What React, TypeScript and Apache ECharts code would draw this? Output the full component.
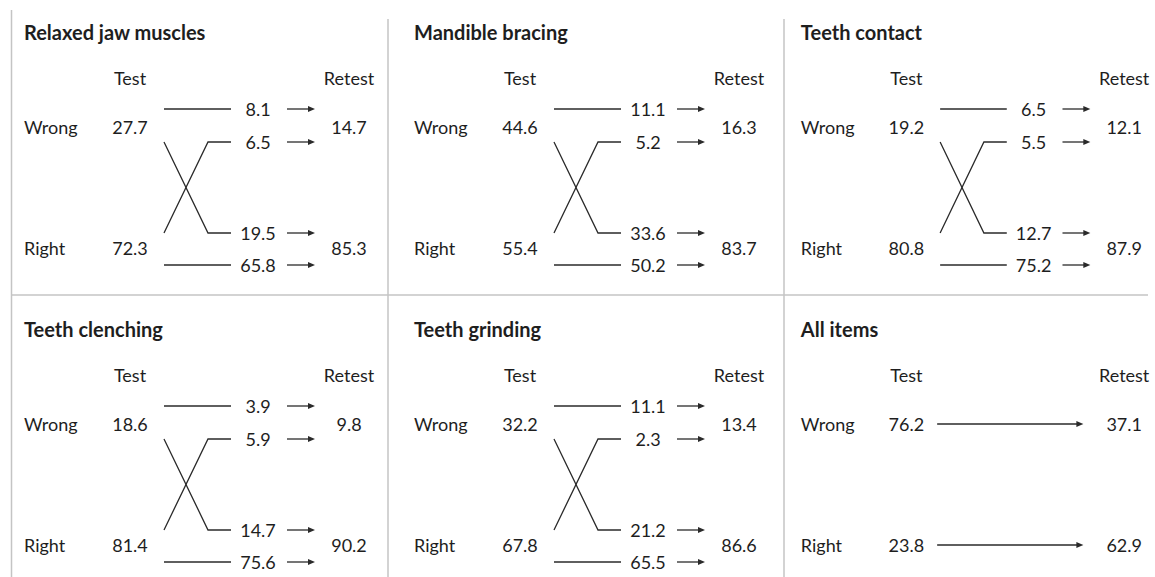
import { useEffect, useRef } from "react";
import * as echarts from "echarts";

// ---------- data ----------
const panelTitles = [
  "Relaxed jaw muscles",
  "Mandible bracing",
  "Teeth contact",
  "Teeth clenching",
  "Teeth grinding",
  "All items",
];
const rowLabels = ["Wrong", "Right"];
const colLabels = ["Test", "Retest"];
const testWrong = [27.7, 44.6, 19.2, 18.6, 32.2, 76.2];
const testRight = [72.3, 55.4, 80.8, 81.4, 67.8, 23.8];
const retestWrong = [14.7, 16.3, 12.1, 9.8, 13.4, 37.1];
const retestRight = [85.3, 83.7, 87.9, 90.2, 86.6, 62.9];
// transitions (null = not shown)
const wrongToWrong = [8.1, 11.1, 6.5, 3.9, 11.1, null];
const rightToWrong = [6.5, 5.2, 5.5, 5.9, 2.3, null];
const wrongToRight = [19.5, 33.6, 12.7, 14.7, 21.2, null];
const rightToRight = [65.8, 50.2, 75.2, 75.6, 65.5, null];

// ---------- layout ----------
const PANEL_X = [0, 390, 777];
const PANEL_Y = [0, 297];
const PANEL_W = 380;
const PANEL_H = 275;
const L = {
  titleX: 24,
  titleY: 32,
  labelX: 24,
  testCX: 130,
  retestCX: 349,
  headerY: 78,
  rowY: [127, 248],
  slotSame: [109, 265],
  slotCross: [142, 233],
  lineX0: 164,
  bendX: 208,
  lineX1: 231,
  flowLabelCX: 258,
  arrowX0: 287,
  arrowX1: 315,
  directX0: 161,
  directX1: 308,
};
const FONT = "Lato, 'Open Sans', sans-serif";
const TEXT = "#1e1e1e";
const LINE = "#2a2a2a";
const DIV = "#c4c4c4";
const FS = 18;
const TITLE_FS = 20;

const fmt = (v: number) => v.toFixed(1);

type Item =
  | { kind: "text"; x: number; y: number; text: string; align: string; bold?: boolean; size: number }
  | { kind: "flow"; from: number; to: number; value: number }
  | { kind: "direct"; row: number };

function buildItems(p: number): Item[] {
  const items: Item[] = [];
  items.push({ kind: "text", x: L.titleX, y: L.titleY, text: panelTitles[p], align: "left", bold: true, size: TITLE_FS });
  items.push({ kind: "text", x: L.testCX, y: L.headerY, text: colLabels[0], align: "center", size: FS });
  items.push({ kind: "text", x: L.retestCX, y: L.headerY, text: colLabels[1], align: "center", size: FS });
  const tests = [testWrong[p], testRight[p]];
  const retests = [retestWrong[p], retestRight[p]];
  for (let r = 0; r < 2; r++) {
    items.push({ kind: "text", x: L.labelX, y: L.rowY[r], text: rowLabels[r], align: "left", size: FS });
    items.push({ kind: "text", x: L.testCX, y: L.rowY[r], text: fmt(tests[r]), align: "center", size: FS });
    items.push({ kind: "text", x: L.retestCX, y: L.rowY[r], text: fmt(retests[r]), align: "center", size: FS });
  }
  const flows: [number, number, number | null][] = [
    [0, 0, wrongToWrong[p]],
    [1, 0, rightToWrong[p]],
    [0, 1, wrongToRight[p]],
    [1, 1, rightToRight[p]],
  ];
  let any = false;
  for (const [f, t, v] of flows) {
    if (v != null) {
      any = true;
      items.push({ kind: "flow", from: f, to: t, value: v });
    }
  }
  if (!any) {
    items.push({ kind: "direct", row: 0 });
    items.push({ kind: "direct", row: 1 });
  }
  return items;
}

function arrow(api: any, x0: number, x1: number, y: number) {
  const a = api.coord([x0, y]);
  const b = api.coord([x1, y]);
  return [
    {
      type: "line",
      shape: { x1: a[0], y1: a[1], x2: b[0] - 5, y2: b[1] },
      style: { stroke: LINE, lineWidth: 1.3 },
    },
    {
      type: "polygon",
      shape: { points: [[b[0], b[1]], [b[0] - 7, b[1] - 3], [b[0] - 7, b[1] + 3]] },
      style: { fill: LINE },
    },
  ];
}

function makeRender(items: Item[]) {
  return (params: any, api: any) => {
    const it = items[params.dataIndex];
    if (it.kind === "text") {
      const c = api.coord([it.x, it.y]);
      return {
        type: "text",
        x: c[0],
        y: c[1],
        style: {
          text: it.text,
          fill: TEXT,
          fontFamily: FONT,
          fontSize: it.size,
          fontWeight: it.bold ? "bold" : "normal",
          align: it.align,
          verticalAlign: "middle",
        },
      };
    }
    if (it.kind === "direct") {
      return { type: "group", children: arrow(api, L.directX0, L.directX1, L.rowY[it.row]) };
    }
    const from = api.value(0);
    const to = api.value(1);
    const value = api.value(2);
    let pts: number[][];
    let y: number;
    if (from === to) {
      y = L.slotSame[to];
      pts = [api.coord([L.lineX0, y]), api.coord([L.lineX1, y])];
    } else {
      y = L.slotCross[to];
      const yStart = L.slotCross[from];
      pts = [api.coord([L.lineX0, yStart]), api.coord([L.bendX, y]), api.coord([L.lineX1, y])];
    }
    const lc = api.coord([L.flowLabelCX, y]);
    return {
      type: "group",
      children: [
        { type: "polyline", shape: { points: pts }, style: { stroke: LINE, lineWidth: 1.3, fill: "none" } },
        {
          type: "text",
          x: lc[0],
          y: lc[1],
          style: {
            text: fmt(value),
            fill: TEXT,
            fontFamily: FONT,
            fontSize: FS,
            align: "center",
            verticalAlign: "middle",
          },
        },
        ...arrow(api, L.arrowX0, L.arrowX1, y),
      ],
    };
  };
}

export default function App() {
  const ref = useRef<HTMLDivElement>(null);
  useEffect(() => {
    if (!ref.current) return;
    const chart = echarts.init(ref.current, null, { renderer: "svg" });
    const grids: any[] = [];
    const xAxes: any[] = [];
    const yAxes: any[] = [];
    const series: any[] = [];
    for (let p = 0; p < 6; p++) {
      const col = p % 3;
      const row = Math.floor(p / 3);
      grids.push({ left: PANEL_X[col], top: PANEL_Y[row], width: PANEL_W, height: PANEL_H });
      xAxes.push({ type: "value", gridIndex: p, min: 0, max: PANEL_W, show: false });
      yAxes.push({ type: "value", gridIndex: p, min: 0, max: PANEL_H, inverse: true, show: false });
      const items = buildItems(p);
      series.push({
        type: "custom",
        xAxisIndex: p,
        yAxisIndex: p,
        coordinateSystem: "cartesian2d",
        clip: false,
        silent: true,
        data: items.map((it) => (it.kind === "flow" ? [it.from, it.to, it.value] : [0, 0, 0])),
        renderItem: makeRender(items),
      });
    }
    const dividers = [
      { x1: 11.5, y1: 10, x2: 11.5, y2: 577 },
      { x1: 388, y1: 19, x2: 388, y2: 577 },
      { x1: 784, y1: 19, x2: 784, y2: 577 },
      { x1: 12, y1: 295, x2: 1148, y2: 295 },
    ];
    chart.setOption({
      animation: false,
      backgroundColor: "#ffffff",
      grid: grids,
      xAxis: xAxes,
      yAxis: yAxes,
      series,
      graphic: dividers.map((d) => ({
        type: "line",
        shape: d,
        style: { stroke: DIV, lineWidth: 1.5 },
        silent: true,
      })),
    });
    return () => chart.dispose();
  }, []);
  return (
    <div
      ref={ref}
      style={{ position: "fixed", left: 0, top: 0, width: 1155, height: 577, background: "#fff" }}
    />
  );
}
